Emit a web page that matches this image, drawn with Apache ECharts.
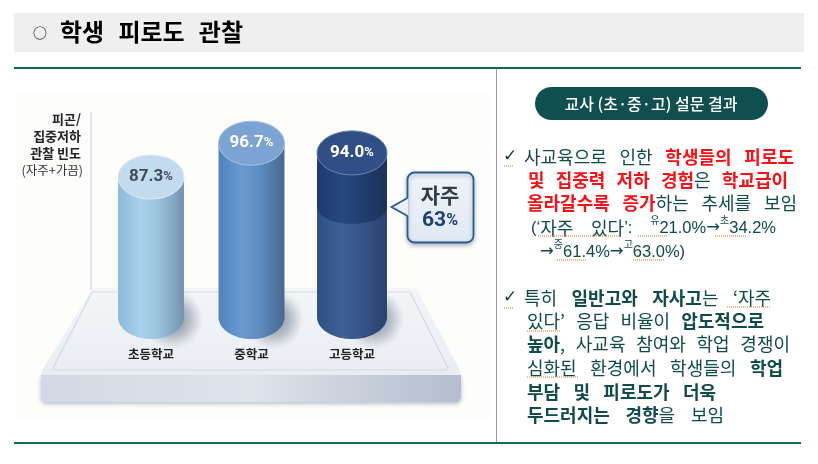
<!DOCTYPE html>
<html><head><meta charset="utf-8">
<style>html,body{margin:0;padding:0;background:#fff}#c{width:818px;height:464px}</style>
<script src="https://cdn.jsdelivr.net/npm/echarts@6/dist/echarts.min.js"></script>
</head><body><div id="c"></div>
<script>
// ---- data ----
const categories = ['초등학교', '중학교', '고등학교'];
const observedRate = [87.3, 96.7, 94.0];
const bandLowerEdge = [null, null, 79];   // darker "자주" band on the high-school column
const oftenLabel = '자주';
const oftenValue = '63%';
const axisTitle = ['피곤/', '집중저하', '관찰 빈도'];
const axisSubTitle = '(자주+가끔)';
const pageMark = '○';
const pageTitle = [[60, 243, [['학생 피로도 관찰', 't']]]];
const panelTitle = '교사 (초·중·고) 설문 결과';

// text runs: b bold, r red, s superscript, n latin/number, a arrow
const block1 = [
  [524, 794, [['사교육으로 인한 '], ['학생들의 피로도', 'r']]],
  [528, 788, [['및 집중력 저하 경험', 'r'], ['은 '], ['학교급이', 'r']]],
  [527, 797, [['올라갈수록 증가', 'r'], ['하는 추세를 보임']]],
  [531, 776, [['(‘', 'n'], ['자주 있다'], ['’:', 'n'], [' '], ['유', 's'], ['21.0%', 'n'], ['→', 'a'], ['초', 's'], ['34.2%', 'n']]],
  [540, 699, [['→', 'a'], ['중', 's'], ['61.4%', 'n'], ['→', 'a'], ['고', 's'], ['63.0%)', 'n']]]
];
const block2 = [
  [524, 771, [['특히 '], ['일반고와 자사고', 'b'], ['는 ‘자주']]],
  [527, 764, [['있다’ 응답 비율이 '], ['압도적으로', 'b']]],
  [527, 790, [['높아', 'b'], [', 사교육 참여와 학업 경쟁이']]],
  [527, 783, [['심화된 환경에서 학생들의 '], ['학업', 'b']]],
  [527, 716, [['부담 및 피로도가 더욱', 'b']]],
  [527, 724, [['두드러지는 경향', 'b'], ['을 보임']]]
];
const block1Y = [157, 180, 203, 228, 252];
const block2Y = [298, 321, 344, 368, 392, 415];

// ---- styles ----
const FONT = '"Noto Sans CJK KR","Noto Sans",sans-serif';
const TEAL = '#0e6b5c', INK = '#0f4a4c';
const baseValue = 48.4, RY = 22, BAND_RY = 17;
const cylStyle = [
  {w:.328, body:['#8cbad9','#a9d1eb','#9cc4df','#7493ad'], top:'#c3dbee', rim:'#dcebf6', txt:'#3c4c5c'},
  {w:.328, body:['#4f82b8','#6a9ad2','#5f8dc2','#47698f'], top:'#7ba3d3', rim:'#a9c5e4', txt:'#ffffff'},
  {w:.348, body:['#2f4f83','#3e6096','#37578b','#29416c'], band:['#1f3b70','#274780','#223f72','#1b3158'], top:'#2f4f86', rim:'#6d86ad', txt:'#ffffff'}
];
const grad = c => new echarts.graphic.LinearGradient(0,0,1,0,c.map((col,i)=>({offset:[0,.35,.6,1][i],color:col})));

function columnShape(cx, rx, yTop, yBot, ry){
  const pts = [[cx-rx, yTop]];
  for(let i=0;i<=48;i++){const a=Math.PI*(1-i/48);pts.push([cx+rx*Math.cos(a), yBot+ry*Math.sin(a)]);}
  pts.push([cx+rx, yTop]);
  return pts;
}
function renderColumn(params, api){
  const i = api.value(0), v = api.value(1), band = api.value(2);
  const st = cylStyle[i];
  const top = api.coord([i, v]), base = api.coord([i, baseValue]);
  const cx = top[0], rx = api.size([1,0])[0]*st.w;
  const kids = [
    {type:'ellipse', shape:{cx:cx+22, cy:base[1]+2, rx:rx+16, ry:RY+8},
     style:{fill:new echarts.graphic.RadialGradient(.5,.5,.5,[{offset:0,color:'rgba(70,85,105,.75)'},{offset:.6,color:'rgba(90,105,125,.35)'},{offset:1,color:'rgba(120,135,150,0)'}])}},
    {type:'polygon', shape:{points:columnShape(cx,rx,top[1],base[1],RY)}, style:{fill:grad(st.body)}}
  ];
  if(!isNaN(band)){
    const by = api.coord([i, band])[1];
    kids.push({type:'polygon', shape:{points:columnShape(cx,rx,top[1],by,BAND_RY)}, style:{fill:grad(st.band)}});
  }
  kids.push({type:'ellipse', shape:{cx, cy:top[1], rx, ry:RY}, style:{fill:st.top, stroke:st.rim, lineWidth:1}});
  kids.push({type:'text', style:{x:cx, y:top[1], align:'center', verticalAlign:'middle',
    text:'{n|'+v.toFixed(1)+'}{p|%}',
    rich:{n:{fontSize:17,fontWeight:'bold',fontFamily:'Roboto,'+FONT,fill:st.txt,color:st.txt},
          p:{fontSize:13,fontWeight:'bold',fontFamily:'Roboto,'+FONT,fill:st.txt,color:st.txt}}}});
  return {type:'group', children:kids};
}

// ---- text layout helper: words spread to the measured line extent ----
const mctx = document.createElement('canvas').getContext('2d');
function fontOf(k){
  if(k==='t') return 'bold 24px '+FONT;
  if(k==='s') return 'normal 10px '+FONT;
  if(k==='n') return 'normal 16.5px "Liberation Sans",'+FONT;
  if(k==='a') return 'normal 16.5px "DejaVu Sans",'+FONT;
  return ((k==='b'||k==='r')?'bold':'normal')+' 18px '+FONT;
}
function layoutLine(line, y, out){
  const [x0,x1,runs] = line;
  const toks = [];
  runs.forEach(([t,k])=>{ t.split(/( )/).filter(p=>p!=='').forEach(p=>toks.push({t:p,k})); });
  const words = toks.filter(t=>t.t!==' ');
  let w=0; words.forEach(t=>{mctx.font=fontOf(t.k);t.w=mctx.measureText(t.t).width;w+=t.w;});
  const n = toks.filter(t=>t.t===' ').length;
  const gap = n ? Math.max(2,(x1-x0-w)/n) : 0;
  let x=x0;
  toks.forEach(t=>{
    if(t.t===' '){x+=gap;return;}
    out.push({type:'text', x:x, y:t.k==='s'?y-8:y, z:1,
      style:{text:t.t, font:fontOf(t.k), fill:t.k==='r'?'#fb0f14':(t.k==='t'?'#000':INK), textAlign:'left', textVerticalAlign:'middle'}});
    x+=t.w;
  });
}

const g = [];
// page frame
g.push({type:'rect', shape:{x:14,y:13,width:790,height:39}, style:{fill:'#efefef'}});
g.push({type:'text', x:33, y:33, style:{text:pageMark, font:'14px "Noto Sans CJK KR"', fill:'#000', textVerticalAlign:'middle'}});
layoutLine(pageTitle[0], 32, g);
g.push({type:'rect', shape:{x:14,y:67,width:787,height:2}, style:{fill:TEAL}});
g.push({type:'rect', shape:{x:14,y:442,width:787,height:2}, style:{fill:TEAL}});
g.push({type:'rect', shape:{x:496,y:69,width:1,height:373}, style:{fill:'#9a9a9a'}});
// picture backdrop + platform
g.push({type:'rect', shape:{x:16,y:92,width:474,height:326}, style:{fill:'#fdfdfc'}});
g.push({type:'rect', shape:{x:90.5,y:112,width:1.2,height:178}, style:{fill:'#cdd4dc'}});
g.push({type:'polygon', shape:{points:[[41,398],[41,375],[461,375],[461,398],[458,402],[44,402]]},
  style:{fill:new echarts.graphic.LinearGradient(0,0,1,0,[{offset:0,color:'#d3d9e4'},{offset:.5,color:'#dfe3ea'},{offset:1,color:'#b3bdcd'}]), shadowColor:'rgba(120,130,150,.5)', shadowBlur:4, shadowOffsetY:2}});
g.push({type:'polygon', shape:{points:[[93,288],[416,288],[460,370],[461,375],[41,375],[42,370]]},
  style:{fill:new echarts.graphic.LinearGradient(0,0,0,1,[{offset:0,color:'#f3f5f8'},{offset:1,color:'#e9edf2'}])}});
g.push({type:'polyline', shape:{points:[[92,292],[410,292],[448,368],[447,370],[55,370],[53,368],[92,292]]},
  style:{fill:'none', stroke:'#d3dae3', lineWidth:1.2}});
// axis title
axisTitle.forEach((t,i)=>g.push({type:'text', x:81, y:119+i*17, style:{text:t, font:'bold 13px '+FONT, fill:'#222', textAlign:'right', textVerticalAlign:'middle'}}));
g.push({type:'text', x:83, y:170, style:{text:axisSubTitle, font:'12.5px '+FONT, fill:'#333', textAlign:'right', textVerticalAlign:'middle'}});
// callout
g.push({type:'rect', shape:{x:407.5,y:172.5,width:66,height:70,r:7},
  style:{fill:new echarts.graphic.LinearGradient(0,0,0,1,[{offset:0,color:'#eef3f9'},{offset:1,color:'#dfe9f4'}]), stroke:'#2c5c8f', lineWidth:1.8, shadowColor:'rgba(90,100,120,.45)', shadowBlur:4, shadowOffsetY:2}});
g.push({type:'polygon', shape:{points:[[408.5,198],[391.5,207],[408.5,216]]}, style:{fill:'#eaf0f7'}});
g.push({type:'polyline', shape:{points:[[407.5,198],[391.5,207],[407.5,216]]}, style:{fill:'none',stroke:'#2c5c8f',lineWidth:1.8}});
g.push({type:'text', x:440, y:195, style:{text:oftenLabel, font:'bold 21px '+FONT, fill:'#333c48', textAlign:'center', textVerticalAlign:'middle'}});
g.push({type:'text', x:440, y:221, style:{text:'{a|'+oftenValue.replace('%','')+'}{b|%}', textAlign:'center', textVerticalAlign:'middle',
  rich:{a:{font:'bold 21px Roboto,'+FONT, fill:'#1e3f72', color:'#1e3f72'}, b:{font:'bold 16px Roboto,'+FONT, fill:'#1e3f72', color:'#1e3f72'}}}});
// right panel
g.push({type:'rect', shape:{x:535,y:87,width:233,height:33,r:16.5}, style:{fill:'#0f4f50'}});
g.push({type:'text', x:651, y:103.5, style:{text:panelTitle, font:'500 16px '+FONT, fill:'#fff', textAlign:'center', textVerticalAlign:'middle'}});
[157,298].forEach(y=>g.push({type:'text', x:503, y:y, style:{text:'✓', font:'bold 17px "DejaVu Sans"', fill:'#1a3a3a', textVerticalAlign:'middle'}}));
block1.forEach((l,i)=>layoutLine(l, block1Y[i], g));
block2.forEach((l,i)=>layoutLine(l, block2Y[i], g));
// spell-check dots
[[504,514,166],[538,620,236],[638,668,236],[715,747,236],[557,587,260],[633,665,260],[504,514,308],[727,770,307],[527,561,331],[527,578,377]]
.forEach(([a,b,y])=>g.push({type:'line', z:2, shape:{x1:a,y1:y,x2:b,y2:y}, style:{stroke:'#e2701c', lineWidth:1, lineDash:[1,1]}}));

const chart = echarts.init(document.getElementById('c'), null, {renderer:'canvas'});
chart.setOption({
  animation:false,
  backgroundColor:'#fff',
  textStyle:{fontFamily:FONT},
  grid:{left:100.75, width:301.5, top:131.3, height:216},
  xAxis:{type:'category', data:categories, axisLine:{show:false}, axisTick:{show:false},
    axisLabel:{margin:1, fontSize:12.5, fontWeight:'bold', color:'#222', fontFamily:FONT}},
  yAxis:{type:'value', min:40, max:100, interval:20, show:false},
  graphic:{elements:g},
  series:[{type:'custom', renderItem:renderColumn, clip:false, z:5,
    encode:{x:0,y:1},
    data:categories.map((c,i)=>[i, observedRate[i], bandLowerEdge[i]===null?NaN:bandLowerEdge[i]])}]
});
</script></body></html>
